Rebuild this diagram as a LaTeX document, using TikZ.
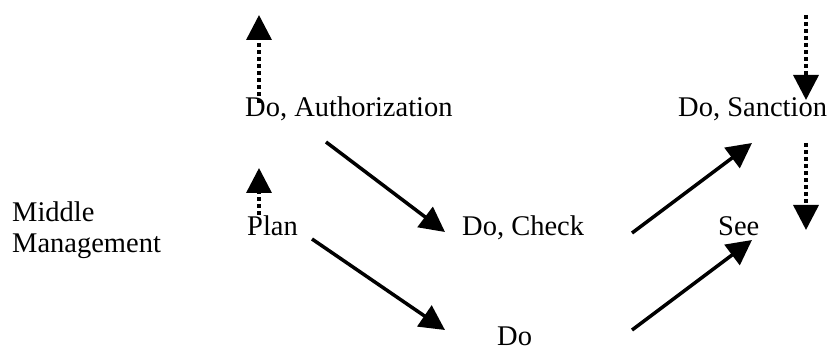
\documentclass[tikz,border=0pt]{standalone}
\usepackage{fontspec}
\setmainfont{Liberation Serif}
\usetikzlibrary{arrows.meta}

\tikzset{
	label/.style={anchor=base west, inner sep=0pt, font=\fontsize{28.5}{31}\selectfont},
	flow/.style={line width=3.5pt, -{Triangle[length=25pt, width=25pt]}},
	dotflow/.style={flow, dash pattern=on 4pt off 3pt}
}

\begin{document}
\begin{tikzpicture}[x=1pt, y=-1pt]
\useasboundingbox (0, 0) rectangle (829, 352);

%labels
\node[label] (middle) at (12, 222) {Middle};
\node[label] (management) at (12, 253) {Management};
\node[label] (auth) at (245, 117) {Do, Authorization};
\node[label] (sanction) at (678, 117) {Do, Sanction};
\node[label] (plan) at (247, 236) {Plan};
\node[label] (check) at (462, 236) {Do, Check};
\node[label] (see) at (718, 236) {See};
\node[label] (do) at (497, 345) {Do};

%arrow ends
\coordinate (authtail) at (326, 142);
\coordinate (checkhead) at (445, 232);
\coordinate (plantail) at (312, 239);
\coordinate (dohead) at (445, 330);
\coordinate (checktail) at (632, 233);
\coordinate (sanctionhead) at (752, 143);
\coordinate (dotail) at (632, 330);
\coordinate (seehead) at (752, 240);

\coordinate (upa) at (259, 103);
\coordinate (upb) at (259, 15);
\coordinate (upc) at (259, 215);
\coordinate (upd) at (259, 168);
\coordinate (downa) at (806, 15);
\coordinate (downb) at (806, 100);
\coordinate (downc) at (806, 143);
\coordinate (downd) at (806, 230);

%solid arrows
\foreach \a/\b in {authtail/checkhead, plantail/dohead, checktail/sanctionhead, dotail/seehead}
	\draw[flow] (\a) -- (\b);

%dotted arrows
\foreach \a/\b in {upa/upb, upc/upd, downa/downb, downc/downd}
	\draw[dotflow] (\a) -- (\b);

\end{tikzpicture}
\end{document}
